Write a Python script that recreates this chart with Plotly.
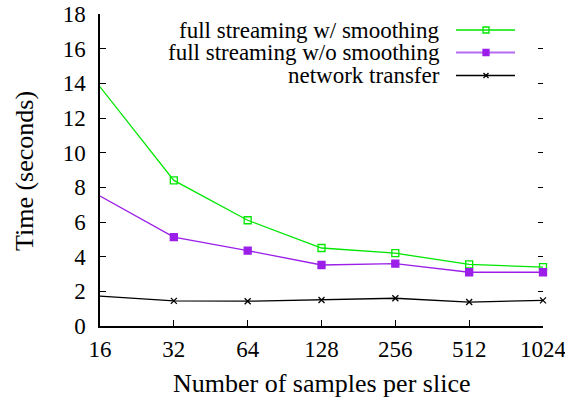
import plotly.graph_objects as go

samples = [16, 32, 64, 128, 256, 512, 1024]
tick_labels = ["16", "32", "64", "128", "256", "512", "1024"]
with_smoothing = [13.8, 8.4, 6.1, 4.5, 4.2, 3.55, 3.4]
without_smoothing = [7.5, 5.13, 4.35, 3.52, 3.6, 3.1, 3.1]
network_transfer = [1.72, 1.45, 1.43, 1.5, 1.6, 1.38, 1.48]
series_names = ["full streaming w/ smoothing", "full streaming w/o smoothing", "network transfer"]
y_ticks = [0, 2, 4, 6, 8, 10, 12, 14, 16, 18]
x_title = "Number of samples per slice"
y_title = "Time (seconds)"

GREEN = "#00e600"
PURPLE = "#9b1fe8"
BLACK = "#000000"
FONT = "Liberation Serif"

styles = [
    dict(color=GREEN, legcolor=GREEN, symbol="square-open", size=7, lw=1.3, leglw=1.6),
    dict(color=PURPLE, legcolor="#b56af2", symbol="square", size=7, lw=1.3, leglw=2.2),
    dict(color=BLACK, legcolor=BLACK, symbol="x-thin-open", size=6, lw=1.3, leglw=1.6),
]
data = [with_smoothing, without_smoothing, network_transfer]

fig = go.Figure()
for name, ys, st in zip(series_names, data, styles):
    fig.add_trace(go.Scatter(
        x=samples, y=ys, mode="lines+markers", name=name,
        line=dict(color=st["color"], width=st["lw"]),
        marker=dict(symbol=st["symbol"], size=st["size"], color=st["color"],
                    line=dict(color=st["color"], width=1.3)),
        cliponaxis=False, showlegend=False,
    ))

# right-side mirror ticks (no axis line)
fig.add_trace(go.Scatter(x=[None], y=[None], xaxis="x", yaxis="y2", showlegend=False))

# manual legend (text right-aligned, sample to the right) in pixel overlay axes
leg_rows = [30, 52.5, 75.5]
for name, st, yy in zip(series_names, styles, leg_rows):
    fig.add_trace(go.Scatter(
        x=[456, 515], y=[yy, yy], mode="lines", xaxis="x3", yaxis="y3",
        line=dict(color=st["legcolor"], width=st["leglw"]),
        showlegend=False, hoverinfo="skip", cliponaxis=False,
    ))
    fig.add_trace(go.Scatter(
        x=[486], y=[yy], mode="markers", xaxis="x3", yaxis="y3",
        marker=dict(symbol=st["symbol"], size=st["size"] - 1, color=st["color"],
                    line=dict(color=st["color"], width=1.3)),
        showlegend=False, hoverinfo="skip", cliponaxis=False,
    ))
    fig.add_annotation(x=442, y=yy, xref="x3", yref="y3", text=name, showarrow=False,
                       xanchor="right", yanchor="middle",
                       font=dict(family=FONT, size=23, color="black"))

# axis titles (paper coordinates; plot area spans x 100..543, y 14..326 px)
fig.add_annotation(x=0.5, y=(326 - 383) / 312, xref="paper", yref="paper", text=x_title,
                   showarrow=False, xanchor="center", yanchor="middle",
                   font=dict(family=FONT, size=26, color="black"))
fig.add_annotation(x=(24 - 100) / 443, y=(326 - 171) / 312, xref="paper", yref="paper",
                   text=y_title, showarrow=False, textangle=-90,
                   xanchor="center", yanchor="middle",
                   font=dict(family=FONT, size=26, color="black"))

fig.update_layout(
    width=565, height=401,
    margin=dict(l=100, r=22, t=14, b=75, autoexpand=False),
    paper_bgcolor="white", plot_bgcolor="white",
    font=dict(family=FONT, size=23, color="black"),
    showlegend=False,
    xaxis=dict(
        type="log", range=[1.20412, 3.0103], automargin=False,
        tickvals=samples, ticktext=tick_labels,
        ticks="inside", ticklen=6, tickwidth=1.2, tickcolor="black",
        showline=True, linecolor="black", linewidth=1.5,
        showgrid=False, zeroline=False,
        tickfont=dict(family=FONT, size=23),
        ticklabelstandoff=2, ticklabeloverflow="allow",
    ),
    yaxis=dict(
        range=[0, 18], tickvals=y_ticks, automargin=False,
        ticks="inside", ticklen=6, tickwidth=1.2, tickcolor="black",
        showline=True, linecolor="black", linewidth=1.5,
        showgrid=False, zeroline=False,
        tickfont=dict(family=FONT, size=23),
        ticklabelstandoff=8, ticklabeloverflow="allow",
    ),
    yaxis2=dict(
        overlaying="y", side="right", matches="y", range=[0, 18], automargin=False,
        tickvals=y_ticks[1:], ticks="inside", ticklen=5, tickwidth=1.2, tickcolor="black",
        showticklabels=False, showline=False, showgrid=False, zeroline=False,
    ),
    xaxis3=dict(overlaying="x", range=[100, 543], visible=False),
    yaxis3=dict(overlaying="y", range=[326, 14], visible=False),
)

fig.write_html("out.html", config={"displayModeBar": False},
               post_script="document.body.style.margin='0';")
